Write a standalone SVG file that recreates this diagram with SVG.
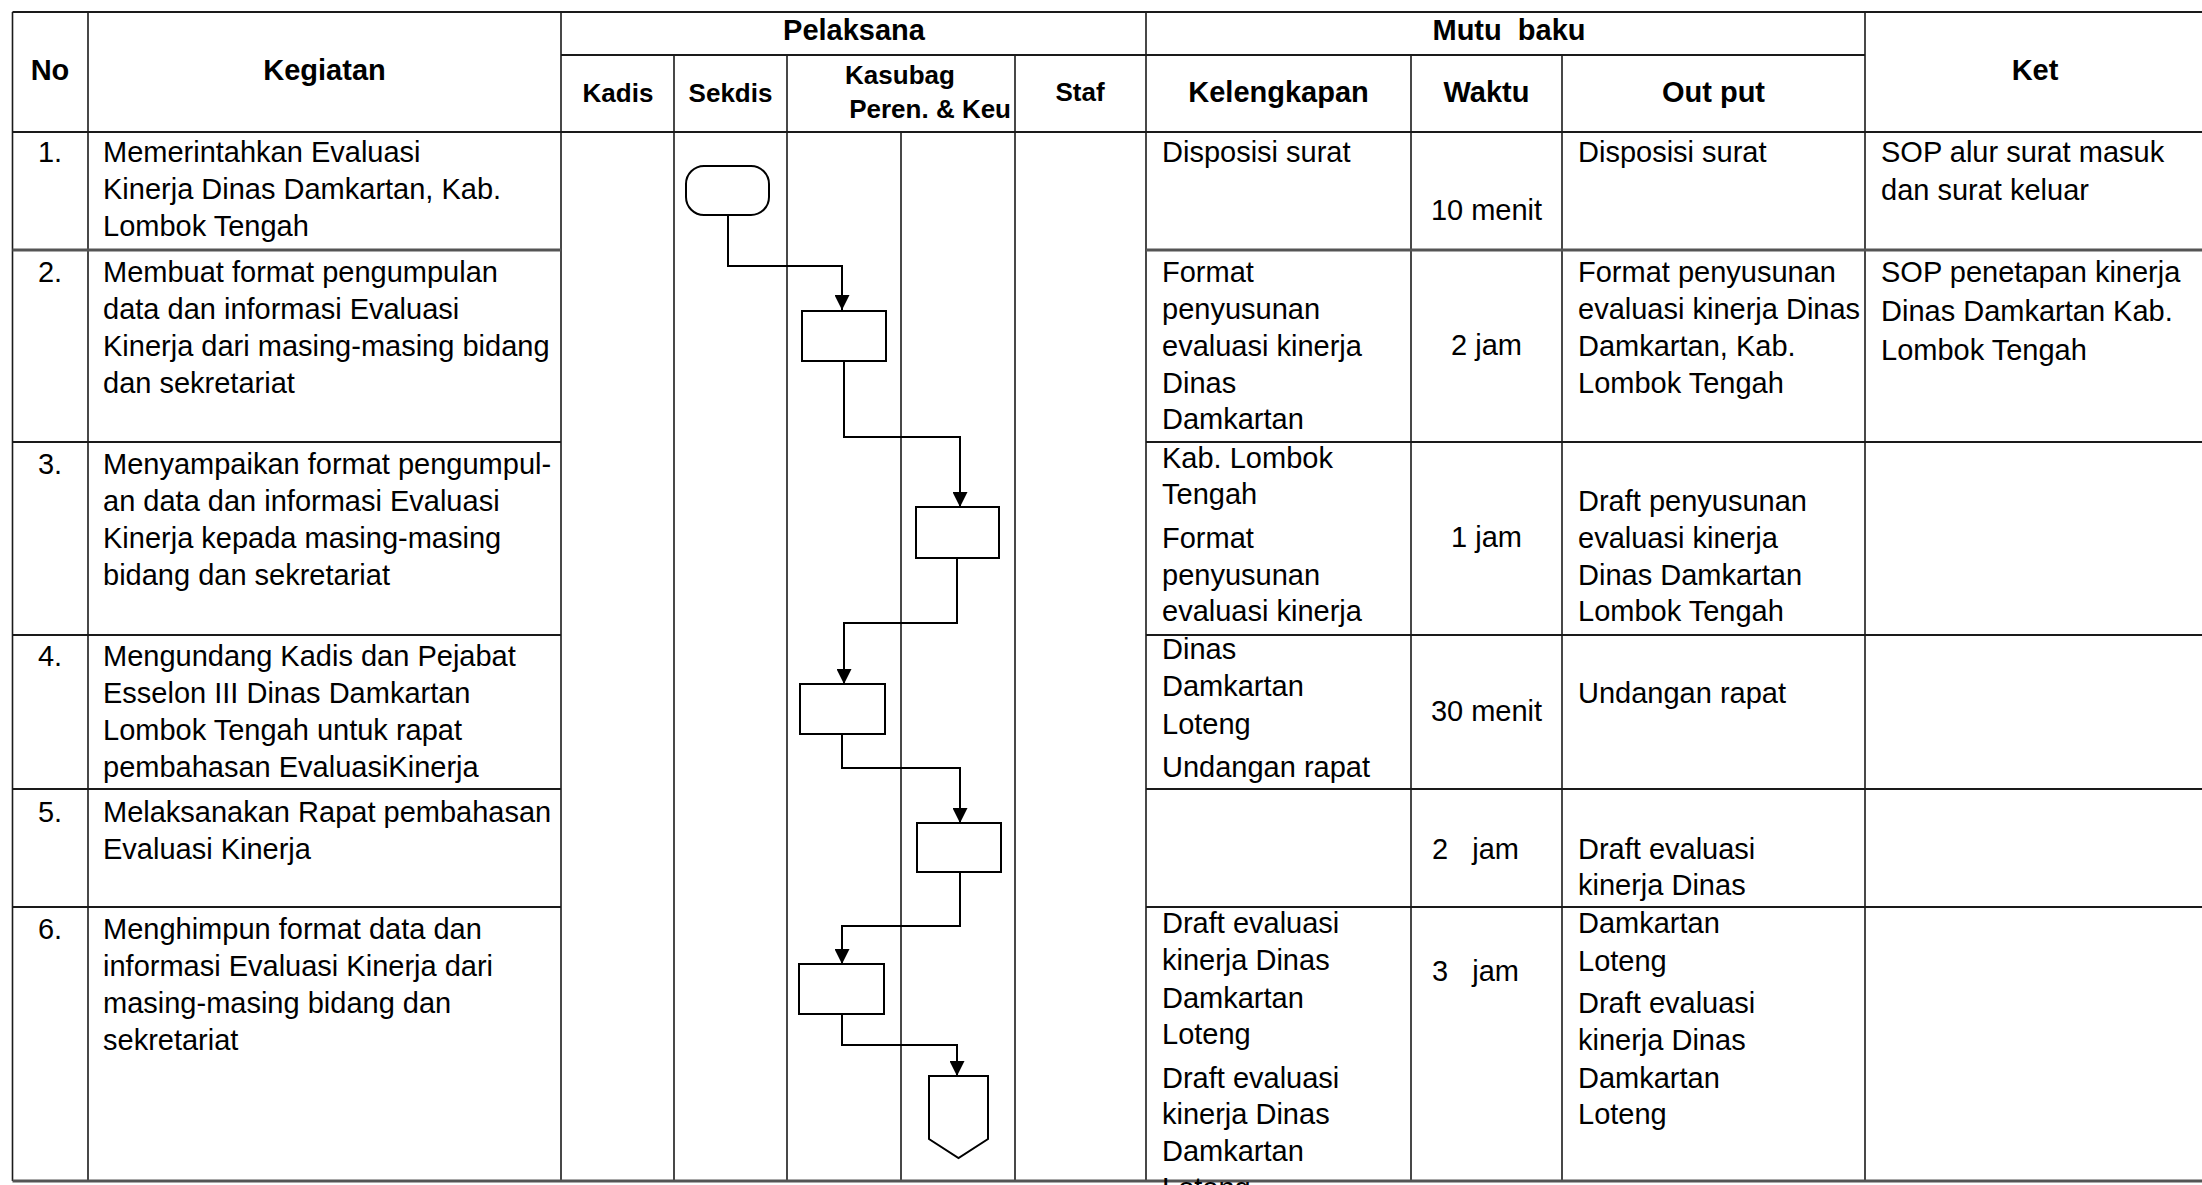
<svg xmlns="http://www.w3.org/2000/svg" width="2202" height="1185" viewBox="0 0 2202 1185">
<style>
  .g { stroke:#1a1a1a; stroke-width:1.6; fill:none; }
  .h { stroke:#1a1a1a; stroke-width:2; fill:none; }
  .hg { stroke:#555; stroke-width:3; fill:none; }
  .b { font-family:"Liberation Sans", Arial, sans-serif; font-weight:bold; font-size:29px; fill:#000; }
  .s { font-family:"Liberation Sans", Arial, sans-serif; font-weight:bold; font-size:26px; fill:#000; }
  .t { font-family:"Liberation Sans", Arial, sans-serif; font-size:29px; fill:#000; white-space:pre; }
  .c { text-anchor:middle; }
  .shape { fill:#fff; stroke:#000; stroke-width:2; }
  .conn { fill:none; stroke:#000; stroke-width:2; }
</style>
<defs>
  <marker id="arr" viewBox="0 0 10 10" refX="10" refY="5" markerUnits="userSpaceOnUse" markerWidth="16" markerHeight="15" orient="auto">
    <path d="M0,0 L10,5 L0,10 Z" fill="#000"/>
  </marker>
</defs>
<rect width="2202" height="1185" fill="#fff"/>

<g id="grid">
  <!-- verticals -->
  <line class="g" x1="12.5" y1="12" x2="12.5" y2="1181"/>
  <line class="g" x1="88" y1="12" x2="88" y2="1181"/>
  <line class="g" x1="561" y1="12" x2="561" y2="1181"/>
  <line class="g" x1="674" y1="55" x2="674" y2="1181"/>
  <line class="g" x1="787" y1="55" x2="787" y2="1181"/>
  <line class="g" x1="901" y1="132" x2="901" y2="1181"/>
  <line class="g" x1="1015" y1="55" x2="1015" y2="1181"/>
  <line class="g" x1="1146" y1="12" x2="1146" y2="1181"/>
  <line class="g" x1="1411" y1="55" x2="1411" y2="1181"/>
  <line class="g" x1="1562" y1="55" x2="1562" y2="1181"/>
  <line class="g" x1="1865" y1="12" x2="1865" y2="1181"/>
  <!-- horizontals -->
  <line class="h" x1="12.5" y1="12" x2="2202" y2="12"/>
  <line class="h" x1="561" y1="55" x2="1865" y2="55"/>
  <line class="h" x1="12.5" y1="132" x2="2202" y2="132"/>
  <line class="hg" x1="12.5" y1="250" x2="561" y2="250"/>
  <line class="hg" x1="1146" y1="250" x2="2202" y2="250"/>
  <line class="h" x1="12.5" y1="442" x2="561" y2="442"/>
  <line class="h" x1="1146" y1="442" x2="2202" y2="442"/>
  <line class="h" x1="12.5" y1="635" x2="561" y2="635"/>
  <line class="h" x1="1146" y1="635" x2="2202" y2="635"/>
  <line class="h" x1="12.5" y1="789" x2="561" y2="789"/>
  <line class="h" x1="1146" y1="789" x2="2202" y2="789"/>
  <line class="h" x1="12.5" y1="907" x2="561" y2="907"/>
  <line class="h" x1="1146" y1="907" x2="2202" y2="907"/>
  <line class="hg" x1="12.5" y1="1181" x2="2202" y2="1181"/>
</g>

<g id="header">
  <text class="b c" x="50" y="80">No</text>
  <text class="b c" x="324.5" y="80">Kegiatan</text>
  <text class="b c" x="854" y="40">Pelaksana</text>
  <text class="b c" x="1509" y="40" xml:space="preserve">Mutu  baku</text>
  <text class="b c" x="2035" y="80">Ket</text>
  <text class="s c" x="618" y="102">Kadis</text>
  <text class="s c" x="730.5" y="102">Sekdis</text>
  <text class="s c" x="900" y="84">Kasubag</text>
  <text class="s" x="1011" y="118" text-anchor="end">Peren. &amp; Keu</text>
  <text class="s c" x="1080" y="101">Staf</text>
  <text class="b c" x="1278.5" y="102">Kelengkapan</text>
  <text class="b c" x="1486.5" y="102">Waktu</text>
  <text class="b c" x="1713.5" y="102">Out put</text>
</g>

<g id="row1">
  <text class="t c" x="50" y="162">1.</text>
  <text class="t" x="103" y="162">Memerintahkan Evaluasi</text>
  <text class="t" x="103" y="199">Kinerja Dinas Damkartan, Kab.</text>
  <text class="t" x="103" y="236">Lombok Tengah</text>
  <text class="t" x="1162" y="162">Disposisi surat</text>
  <text class="t c" x="1486.5" y="220">10 menit</text>
  <text class="t" x="1578" y="162">Disposisi surat</text>
  <text class="t" x="1881" y="162">SOP alur surat masuk</text>
  <text class="t" x="1881" y="200">dan surat keluar</text>
</g>

<g id="row2">
  <text class="t c" x="50" y="282">2.</text>
  <text class="t" x="103" y="282">Membuat format pengumpulan</text>
  <text class="t" x="103" y="319">data dan informasi Evaluasi</text>
  <text class="t" x="103" y="356">Kinerja dari masing-masing bidang</text>
  <text class="t" x="103" y="393">dan sekretariat</text>
  <text class="t" x="1162" y="282">Format</text>
  <text class="t" x="1162" y="319">penyusunan</text>
  <text class="t" x="1162" y="356">evaluasi kinerja</text>
  <text class="t" x="1162" y="393">Dinas</text>
  <text class="t" x="1162" y="429">Damkartan</text>
  <text class="t c" x="1486.5" y="355">2 jam</text>
  <text class="t" x="1578" y="282">Format penyusunan</text>
  <text class="t" x="1578" y="319">evaluasi kinerja Dinas</text>
  <text class="t" x="1578" y="356">Damkartan, Kab.</text>
  <text class="t" x="1578" y="393">Lombok Tengah</text>
  <text class="t" x="1881" y="282">SOP penetapan kinerja</text>
  <text class="t" x="1881" y="321">Dinas Damkartan Kab.</text>
  <text class="t" x="1881" y="360">Lombok Tengah</text>
</g>

<g id="row3">
  <text class="t c" x="50" y="474">3.</text>
  <text class="t" x="103" y="474">Menyampaikan format pengumpul-</text>
  <text class="t" x="103" y="511">an data dan informasi Evaluasi</text>
  <text class="t" x="103" y="548">Kinerja kepada masing-masing</text>
  <text class="t" x="103" y="585">bidang dan sekretariat</text>
  <text class="t" x="1162" y="468">Kab. Lombok</text>
  <text class="t" x="1162" y="504">Tengah</text>
  <text class="t" x="1162" y="548">Format</text>
  <text class="t" x="1162" y="585">penyusunan</text>
  <text class="t" x="1162" y="621">evaluasi kinerja</text>
  <text class="t c" x="1486.5" y="547">1 jam</text>
  <text class="t" x="1578" y="511">Draft penyusunan</text>
  <text class="t" x="1578" y="548">evaluasi kinerja</text>
  <text class="t" x="1578" y="585">Dinas Damkartan</text>
  <text class="t" x="1578" y="621">Lombok Tengah</text>
</g>

<g id="row4">
  <text class="t c" x="50" y="666">4.</text>
  <text class="t" x="103" y="666">Mengundang Kadis dan Pejabat</text>
  <text class="t" x="103" y="703">Esselon III Dinas Damkartan</text>
  <text class="t" x="103" y="740">Lombok Tengah untuk rapat</text>
  <text class="t" x="103" y="777">pembahasan EvaluasiKinerja</text>
  <text class="t" x="1162" y="659">Dinas</text>
  <text class="t" x="1162" y="696">Damkartan</text>
  <text class="t" x="1162" y="734">Loteng</text>
  <text class="t" x="1162" y="777">Undangan rapat</text>
  <text class="t c" x="1486.5" y="721">30 menit</text>
  <text class="t" x="1578" y="703">Undangan rapat</text>
</g>

<g id="row5">
  <text class="t c" x="50" y="822">5.</text>
  <text class="t" x="103" y="822">Melaksanakan Rapat pembahasan</text>
  <text class="t" x="103" y="859">Evaluasi Kinerja</text>
  <text class="t" x="1432" y="859" xml:space="preserve">2   jam</text>
  <text class="t" x="1578" y="859">Draft evaluasi</text>
  <text class="t" x="1578" y="895">kinerja Dinas</text>
</g>

<g id="row6">
  <text class="t c" x="50" y="939">6.</text>
  <text class="t" x="103" y="939">Menghimpun format data dan</text>
  <text class="t" x="103" y="976">informasi Evaluasi Kinerja dari</text>
  <text class="t" x="103" y="1013">masing-masing bidang dan</text>
  <text class="t" x="103" y="1050">sekretariat</text>
  <text class="t" x="1162" y="933">Draft evaluasi</text>
  <text class="t" x="1162" y="970">kinerja Dinas</text>
  <text class="t" x="1162" y="1008">Damkartan</text>
  <text class="t" x="1162" y="1044">Loteng</text>
  <text class="t" x="1162" y="1088">Draft evaluasi</text>
  <text class="t" x="1162" y="1124">kinerja Dinas</text>
  <text class="t" x="1162" y="1161">Damkartan</text>
  <text class="t" x="1162" y="1198">Loteng</text>
  <text class="t" x="1432" y="981" xml:space="preserve">3   jam</text>
  <text class="t" x="1578" y="933">Damkartan</text>
  <text class="t" x="1578" y="971">Loteng</text>
  <text class="t" x="1578" y="1013">Draft evaluasi</text>
  <text class="t" x="1578" y="1050">kinerja Dinas</text>
  <text class="t" x="1578" y="1088">Damkartan</text>
  <text class="t" x="1578" y="1124">Loteng</text>
</g>

<g id="connectors">
  <path class="conn" d="M728,215 V266 H842 V310" marker-end="url(#arr)"/>
  <path class="conn" d="M844,361 V437 H960 V507" marker-end="url(#arr)"/>
  <path class="conn" d="M957,558 V623 H844 V684" marker-end="url(#arr)"/>
  <path class="conn" d="M842,734 V768 H960 V823" marker-end="url(#arr)"/>
  <path class="conn" d="M960,872 V926 H842 V964" marker-end="url(#arr)"/>
  <path class="conn" d="M842,1014 V1045 H957 V1076" marker-end="url(#arr)"/>
</g>

<g id="n1"><rect class="shape" x="686" y="166" width="83" height="49" rx="18" ry="18"/></g>
<g id="n2"><rect class="shape" x="802" y="311" width="84" height="50"/></g>
<g id="n3"><rect class="shape" x="916" y="507" width="83" height="51"/></g>
<g id="n4"><rect class="shape" x="800" y="684" width="85" height="50"/></g>
<g id="n5"><rect class="shape" x="917" y="823" width="84" height="49"/></g>
<g id="n6"><rect class="shape" x="799" y="964" width="85" height="50"/></g>
<g id="n7"><path class="shape" d="M929,1076 H988 V1139 L958.5,1158 L929,1139 Z"/></g>
</svg>
